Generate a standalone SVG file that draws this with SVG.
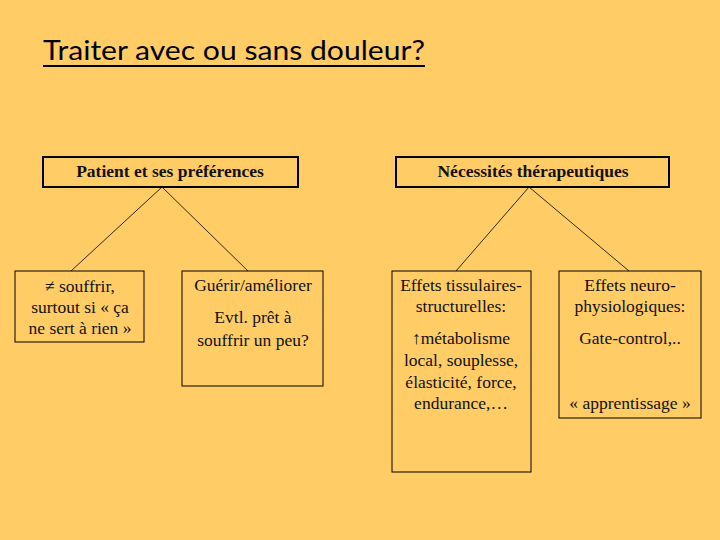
<svg xmlns="http://www.w3.org/2000/svg" width="720" height="540" viewBox="0 0 720 540">
<style>
.bg{fill:#FFCC66}
.hdr{fill:none;stroke:#000;stroke-width:2}
.box{fill:none;stroke:#000;stroke-width:1}
.conn{stroke:#000;stroke-width:0.8;fill:none}
text.t{font-family:'Liberation Serif','DejaVu Serif','Times New Roman',serif;font-size:17.5px;fill:#111;text-anchor:middle}
text.b{font-weight:bold;font-size:17.5px}
.title{font-family:Lato,'Open Sans','Liberation Sans',sans-serif;font-size:26px;fill:#000}
</style>
<rect class="bg" x="0" y="0" width="720" height="540"/>
<g id="title">
<text class="title" x="43" y="60" textLength="382" lengthAdjust="spacingAndGlyphs">Traiter avec ou sans douleur?</text>
<line x1="43" y1="66" x2="425" y2="66" stroke="#000" stroke-width="2"/>
</g>
<g id="connectors">
<line class="conn" x1="162" y1="187" x2="71" y2="271"/>
<line class="conn" x1="162" y1="187" x2="248" y2="271"/>
<line class="conn" x1="529" y1="187" x2="456" y2="271"/>
<line class="conn" x1="529" y1="187" x2="629" y2="271"/>
</g>
<g id="patient">
<rect class="hdr" x="43" y="157" width="255" height="30"/>
<text class="t b" x="170" y="177">Patient et ses préférences</text>
</g>
<g id="souffrir">
<rect class="box" x="15" y="271" width="129" height="71"/>
<text class="t" x="80" y="292">≠ souffrir,</text>
<text class="t" x="80" y="313">surtout si « ça</text>
<text class="t" x="80" y="334">ne sert à rien »</text>
</g>
<g id="guerir">
<rect class="box" x="182" y="271" width="141" height="115"/>
<text class="t" x="253" y="291">Guérir/améliorer</text>
<text class="t" x="253" y="323">Evtl. prêt à</text>
<text class="t" x="253" y="346">souffrir un peu?</text>
</g>
<g id="necessites">
<rect class="hdr" x="396" y="157" width="273" height="30"/>
<text class="t b" x="533" y="177">Nécessités thérapeutiques</text>
</g>
<g id="tissulaires">
<rect class="box" x="392" y="271" width="139" height="201"/>
<text class="t" x="461" y="291">Effets tissulaires-</text>
<text class="t" x="461" y="312">structurelles:</text>
<text class="t" x="461" y="344">↑métabolisme</text>
<text class="t" x="461" y="366">local, souplesse,</text>
<text class="t" x="461" y="388">élasticité, force,</text>
<text class="t" x="461" y="409">endurance,…</text>
</g>
<g id="neuro">
<rect class="box" x="559" y="271" width="142" height="147"/>
<text class="t" x="630" y="291">Effets neuro-</text>
<text class="t" x="630" y="312">physiologiques:</text>
<text class="t" x="630" y="344">Gate-control,..</text>
<text class="t" x="630" y="409">« apprentissage »</text>
</g>
</svg>
